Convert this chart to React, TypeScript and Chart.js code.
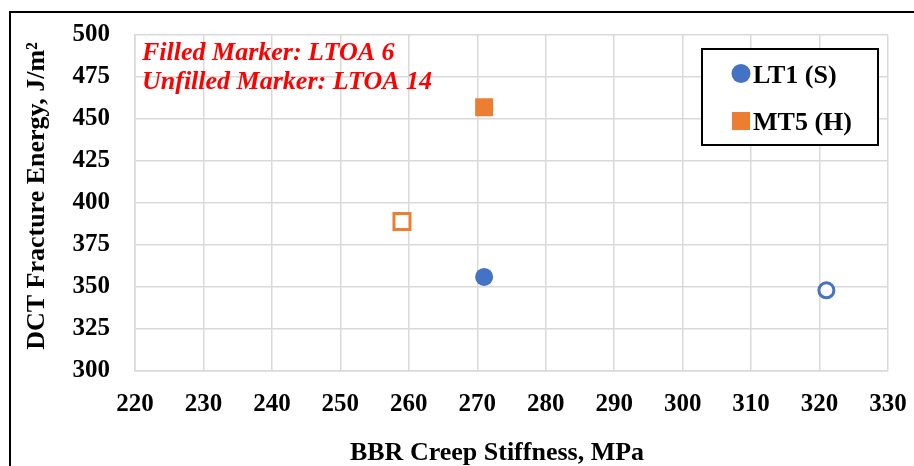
import React, { useEffect, useRef } from 'react';
import { Chart, registerables } from 'chart.js';

Chart.register(...registerables);

// ---- data ----
const seriesNames = ['LT1 (S)', 'MT5 (H)'];
const seriesColors = ['#4472C4', '#ED7D31'];
const lt1Ltoa6 = [{ x: 271, y: 356 }];
const lt1Ltoa14 = [{ x: 321, y: 348 }];
const mt5Ltoa6 = [{ x: 271, y: 457 }];
const mt5Ltoa14 = [{ x: 259, y: 389 }];
const xMin = 220;
const xMax = 330;
const xStep = 10;
const yMin = 300;
const yMax = 500;
const yStep = 25;
const xTitle = 'BBR Creep Stiffness, MPa';
const yTitle = 'DCT Fracture Energy, J/m²';
const noteLines = ['Filled Marker: LTOA 6', 'Unfilled Marker: LTOA 14'];

const SERIF = '"Liberation Serif", "Times New Roman", serif';
const GRID = '#D9D9D9';

const decor = {
  id: 'decor',
  beforeDraw(chart: any) {
    const ctx = chart.ctx;
    ctx.save();
    ctx.fillStyle = '#ffffff';
    ctx.fillRect(0, 0, chart.width, chart.height);
    ctx.restore();
  },
  afterDraw(chart: any) {
    const ctx = chart.ctx;
    ctx.save();
    // outer frame (extends beyond view)
    ctx.strokeStyle = '#000';
    ctx.lineWidth = 2;
    ctx.strokeRect(10, 12, 2000, 2000);

    // note text
    ctx.fillStyle = '#FF0000';
    ctx.font = `italic bold 26px ${SERIF}`;
    ctx.textAlign = 'left';
    ctx.textBaseline = 'alphabetic';
    ctx.fillText(noteLines[0], 142, 60);
    ctx.fillText(noteLines[1], 142, 89);

    // axis titles
    ctx.fillStyle = '#000';
    ctx.font = `bold 26px ${SERIF}`;
    ctx.textAlign = 'center';
    ctx.fillText(xTitle, 497, 459.5);
    ctx.save();
    ctx.translate(44, 196);
    ctx.rotate(-Math.PI / 2);
    ctx.fillText(yTitle, 0, 0);
    ctx.restore();

    // legend
    ctx.fillStyle = '#fff';
    ctx.fillRect(702, 49, 176, 96);
    ctx.strokeStyle = '#000';
    ctx.lineWidth = 2;
    ctx.strokeRect(702, 49, 176, 96);
    ctx.fillStyle = seriesColors[0];
    ctx.beginPath();
    ctx.arc(741, 73.5, 9.5, 0, Math.PI * 2);
    ctx.fill();
    ctx.fillStyle = seriesColors[1];
    ctx.fillRect(732, 112, 18, 18);
    ctx.fillStyle = '#000';
    ctx.font = `bold 26px ${SERIF}`;
    ctx.textAlign = 'left';
    ctx.fillText(seriesNames[0], 753, 82.5);
    ctx.fillText(seriesNames[1], 753, 130);
    ctx.restore();
  },
};

export default function App() {
  const ref = useRef<HTMLCanvasElement | null>(null);
  useEffect(() => {
    if (!ref.current) return;
    const tickFont = { family: SERIF, size: 25, weight: 'bold' as const };
    const chart = new Chart(ref.current, {
      type: 'scatter',
      data: {
        datasets: [
          {
            label: seriesNames[0] + ' LTOA 6',
            data: lt1Ltoa6,
            pointStyle: 'circle',
            pointRadius: 9,
            backgroundColor: seriesColors[0],
            borderColor: seriesColors[0],
            borderWidth: 0,
          },
          {
            label: seriesNames[0] + ' LTOA 14',
            data: lt1Ltoa14,
            pointStyle: 'circle',
            pointRadius: 7.5,
            backgroundColor: '#ffffff',
            borderColor: seriesColors[0],
            borderWidth: 3,
          },
          {
            label: seriesNames[1] + ' LTOA 6',
            data: mt5Ltoa6,
            pointStyle: 'rect',
            pointRadius: 12.7,
            backgroundColor: seriesColors[1],
            borderColor: seriesColors[1],
            borderWidth: 0,
          },
          {
            label: seriesNames[1] + ' LTOA 14',
            data: mt5Ltoa14,
            pointStyle: 'rect',
            pointRadius: 11.3,
            backgroundColor: '#ffffff',
            borderColor: seriesColors[1],
            borderWidth: 3,
          },
        ],
      },
      options: {
        responsive: false,
        animation: false,
        devicePixelRatio: 1,
        layout: { padding: { top: 35, right: 26, left: 0, bottom: 0 } },
        plugins: {
          legend: { display: false },
          tooltip: { enabled: false },
          title: { display: false },
        },
        scales: {
          x: {
            type: 'linear',
            min: xMin,
            max: xMax,
            ticks: { stepSize: xStep, font: tickFont, color: '#000', padding: 19, maxRotation: 0 },
            grid: { color: GRID, lineWidth: 1.5, drawTicks: false },
            border: { color: GRID, width: 1.5 },
            afterFit: (s: any) => {
              s.height = 95;
              s.paddingLeft = 0;
              s.paddingRight = 0;
              s.paddingTop = 0;
              s.paddingBottom = 0;
            },
          },
          y: {
            type: 'linear',
            min: yMin,
            max: yMax,
            ticks: { stepSize: yStep, font: tickFont, color: '#000', padding: 25 },
            grid: { color: GRID, lineWidth: 1.5, drawTicks: false },
            border: { color: GRID, width: 1.5 },
            afterFit: (s: any) => {
              s.width = 135;
              s.paddingLeft = 0;
              s.paddingRight = 0;
              s.paddingTop = 0;
              s.paddingBottom = 0;
            },
          },
        },
      },
      plugins: [decor],
    });
    return () => chart.destroy();
  }, []);
  return (
    <div style={{ position: 'fixed', left: 0, top: 0, width: 914, height: 466, background: '#fff' }}>
      <canvas ref={ref} width={914} height={466} style={{ display: 'block' }} />
    </div>
  );
}
